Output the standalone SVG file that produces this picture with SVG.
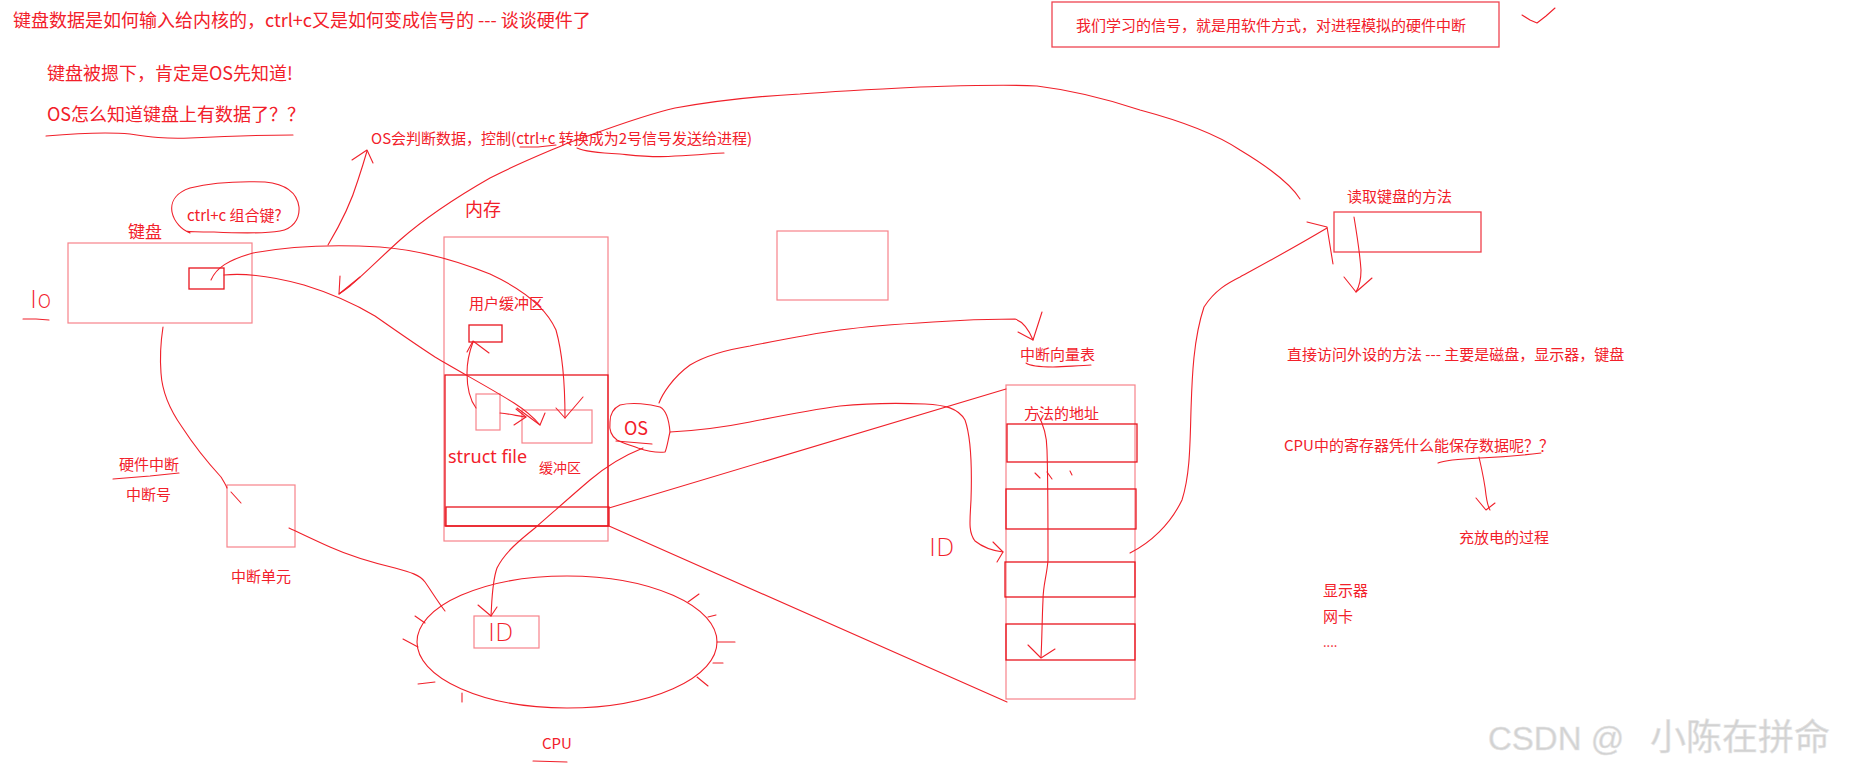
<svg xmlns="http://www.w3.org/2000/svg" width="1866" height="768" viewBox="0 0 1866 768">
<style>
.t{font-family:"Noto Sans CJK SC","Noto Sans",sans-serif;fill:#f2202a;dominant-baseline:central}
.s15{font-size:15px}
.s18{font-size:18px}
.hw{font-family:"DejaVu Sans","Liberation Sans",sans-serif;font-size:24px;fill:#f2202a;font-weight:200;dominant-baseline:central}
.lb{fill:none;stroke:#f7838a;stroke-width:1.2}
.db{fill:none;stroke:#e8141e;stroke-width:1.3}
.ln{fill:none;stroke:#f0202a;stroke-width:1.1;stroke-linejoin:round;stroke-linecap:round}
.wm{font-family:"Liberation Sans","Noto Sans CJK SC",sans-serif;fill:#d2d2d2;stroke:#e6e6e6;stroke-width:0.6}
</style>
<rect width="1866" height="768" fill="#fff"/>

<g id="title"><text class="t s18" x="13" y="19">键盘数据是如何输入给内核的，ctrl+c又是如何变成信号的 --- 谈谈硬件了</text></g>
<g id="note1"><text class="t s18" x="47" y="72">键盘被摁下，肯定是OS先知道!</text></g>
<g id="note2"><text class="t s18" x="47" y="113">OS怎么知道键盘上有数据了？？</text></g>
<g id="note3"><text class="t s15" x="371" y="137">OS会判断数据，控制(ctrl+c 转换成为2号信号发送给进程)</text></g>

<g id="signal-box">
<rect class="db" x="1052" y="2" width="447" height="45" style="stroke:#ee4450"/>
<text class="t s15" x="1076" y="24">我们学习的信号，就是用软件方式，对进程模拟的硬件中断</text>
</g>
<g id="check"><path class="ln" d="M1522,15 L1530,20 L1537,23 L1546,16 L1555,8"/></g>

<g id="ctrlc">
<path class="ln" d="M190,233 C182,230 174,222 172,212 C170,200 178,192 190,188 C210,183 240,181 265,182 C285,184 297,192 299,207 C300,220 292,229 280,231 C262,234 235,233 214,232 C200,232 190,232 186,231"/>
<text class="t s15" x="187" y="214">ctrl+c 组合键?</text>
</g>

<g id="keyboard">
<text class="t" style="font-size:17px" x="128" y="230">键盘</text>
<rect class="lb" x="68" y="243" width="184" height="80"/>
<rect class="db" x="189" y="268" width="35" height="21"/>
</g>
<g id="io-mark">
<text class="hw" x="30" y="300">Io</text>
<path class="ln" d="M23,319 L36,319 L49,320"/>
</g>

<g id="memory">
<text class="t s18" x="465" y="208">内存</text>
<rect class="lb" x="444" y="237" width="164" height="304"/>
<text class="t s15" x="469" y="302">用户缓冲区</text>
<rect class="db" x="469" y="325" width="33" height="17"/>
<rect class="db" x="445" y="375" width="163" height="151"/>
<rect class="lb" x="476" y="394" width="24" height="36"/>
<rect class="lb" x="522" y="410" width="70" height="33"/>
<text class="t s18" style="font-family:'Noto Sans',sans-serif" x="448" y="456">struct file</text>
<text class="t" style="font-size:14px" x="539" y="467">缓冲区</text>
<rect class="db" x="446" y="507" width="163" height="19"/>
</g>

<g id="hw-int">
<text class="t s15" x="119" y="463">硬件中断</text>
<path class="ln" d="M113,479 L150,476 L179,473"/>
<text class="t s15" x="126" y="493">中断号</text>
</g>

<g id="int-unit">
<rect class="lb" x="227" y="485" width="68" height="62"/>
<text class="t s15" x="231" y="575">中断单元</text>
</g>

<g id="empty-box"><rect class="lb" x="777" y="231" width="111" height="69"/></g>

<g id="os">
<path class="ln" d="M620,405 C632,402 650,404 660,407 C666,410 669,420 670,432 C668,440 667,448 665,452 C658,453 650,452 638,448 C630,445 622,443 617,440 C611,436 609,430 610,422 C610,414 614,408 620,405 Z"/>
<text class="t s18" x="624" y="427">OS</text>
<path class="ln" d="M616,441 L652,444"/>
</g>

<g id="vector-table">
<text class="t s15" x="1020" y="353">中断向量表</text>
<path class="ln" d="M1026,363 C1030,366 1040,367 1053,367 C1070,366 1082,366 1091,365"/>
<rect class="lb" x="1006" y="385" width="129" height="314"/>
<text class="t s15" x="1024" y="412">方法的地址</text>
<rect class="db" x="1007" y="424" width="130" height="38"/>
<rect class="db" x="1006" y="489" width="130" height="40"/>
<rect class="db" x="1005" y="562" width="130" height="35"/>
<rect class="db" x="1006" y="624" width="129" height="36"/>
<path class="ln" d="M1035,473 L1040,478 M1047,472 L1052,479 M1070,471 L1072,475"/>
</g>
<g id="id-mark"><text class="hw" x="929" y="548">ID</text></g>

<g id="read-kbd">
<text class="t s15" x="1347" y="195">读取键盘的方法</text>
<rect class="db" x="1334" y="212" width="147" height="40" style="stroke:#f0404a"/>
</g>

<g id="direct"><text class="t s15" x="1287" y="353">直接访问外设的方法 --- 主要是磁盘，显示器，键盘</text></g>
<g id="cpu-q">
<text class="t s15" x="1284" y="444">CPU中的寄存器凭什么能保存数据呢？？</text>
<path class="ln" d="M1438,463 C1445,460 1460,459 1480,458 C1505,457 1525,455 1541,453"/>
</g>
<g id="charge"><text class="t s15" x="1459" y="536">充放电的过程</text></g>
<g id="devices">
<text class="t s15" x="1323" y="589">显示器</text>
<text class="t s15" x="1323" y="615">网卡</text>
<text class="t" style="font-size:13px;dominant-baseline:auto" x="1323" y="647">....</text>
</g>

<g id="cpu">
<ellipse class="ln" cx="567" cy="642" rx="150" ry="66"/>
<rect class="lb" x="474" y="616" width="65" height="32"/>
<text class="hw" x="488" y="633">ID</text>
<path class="ln" d="M415,616 L425,623 M403,639 L418,647 M418,684 L435,682 M462,693 L462,702 M688,602 L699,594 M708,617 L716,615 M717,642 L735,642 M713,663 L723,663 M697,677 L708,686"/>
<text class="t s15" x="542" y="742">CPU</text>
<path class="ln" d="M533,761 L567,762"/>
</g>

<g id="connectors">
<!-- underlines -->
<path class="ln" d="M46,136 C80,133 110,132 130,134 C150,137 165,139 190,138 C230,136 260,135 293,135"/>
<path class="ln" d="M520,147 L538,147 L556,145"/>
<path class="ln" d="M577,148 C585,152 600,153 620,154 C640,156 655,158 675,156 C700,155 715,153 724,153"/>
<!-- keyboard small box to buffer, upper arc -->
<path class="ln" d="M211,280 C216,268 228,260 253,253 C290,246 330,244 380,247 C420,250 460,262 490,274 C520,288 545,305 556,330 C563,355 565,385 565,418"/>
<path class="ln" d="M556,408 L565,418 L583,397"/>
<!-- keyboard small box to buffer, lower arc -->
<path class="ln" d="M224,275 C245,273 275,277 304,285 C330,293 355,304 375,316 C395,330 415,344 435,357 C460,372 490,388 514,403 C525,410 534,418 540,425"/>
<path class="ln" d="M517,408 L540,425 L545,413"/>
<!-- tall box to buffer -->
<path class="ln" d="M500,413 C510,414 518,416 526,417"/>
<path class="ln" d="M516,409 L526,417 L514,425"/>
<!-- tall box to user buffer -->
<path class="ln" d="M476,408 C470,400 467,388 467,373 C467,360 470,350 473,342"/>
<path class="ln" d="M467,352 L473,341 L489,353"/>
<!-- keyboard up to OS note -->
<path class="ln" d="M328,245 C340,225 352,200 358,180 C362,168 365,158 367,151"/>
<path class="ln" d="M352,160 L367,150 L373,163"/>
<!-- big arc from read keyboard method to memory -->
<path class="ln" d="M1300,199 C1290,183 1270,168 1240,150 C1210,130 1170,118 1140,110 C1110,100 1070,90 1037,86 C1000,84 960,86 920,87 C880,89 840,91 800,94 C760,96 720,100 675,108 C640,116 605,130 568,143 C540,155 515,165 490,178 C455,198 425,218 400,240 C378,260 362,276 350,286 C345,290 342,292 339,294"/>
<path class="ln" d="M340,276 L339,294 L360,277"/>
<!-- keyboard box to interrupt unit -->
<path class="ln" d="M163,327 C161,340 160,360 161,373 C162,390 170,410 182,427 C195,447 210,465 221,477 C224,482 226,485 227,488"/>
<path class="ln" d="M231,492 L241,503"/>
<!-- interrupt unit to CPU -->
<path class="ln" d="M289,528 C300,533 310,538 330,547 C350,556 370,562 395,568 C410,572 420,575 425,582 C432,592 438,602 445,611"/>
<!-- OS to ID in CPU -->
<path class="ln" d="M643,448 C628,454 610,463 590,480 C570,497 550,515 535,528 C520,540 505,552 497,568 C492,582 492,600 491,616"/>
<path class="ln" d="M478,605 L491,616 L497,607"/>
<!-- OS to interrupt vector table -->
<path class="ln" d="M659,403 C662,395 672,378 690,365 C705,356 725,350 750,346 C780,340 810,334 840,330 C870,326 900,324 933,322 C960,320 990,319 1015,319 C1024,322 1029,330 1033,340"/>
<path class="ln" d="M1018,332 L1033,340 L1042,312"/>
<!-- OS to table row -->
<path class="ln" d="M670,432 C690,431 720,428 750,422 C780,416 810,410 840,406 C870,403 900,403 925,404 C945,405 958,408 965,420 C972,440 972,470 971,500 C970,520 968,532 975,541 C985,549 995,551 1003,552"/>
<path class="ln" d="M993,542 L1003,552 L997,562"/>
<!-- bar to table lines -->
<path class="ln" d="M609,508 L1006,389"/>
<path class="ln" d="M609,526 L1007,702"/>
<!-- vertical arrow in table -->
<path class="ln" d="M1037,413 C1044,425 1047,435 1047,450 C1048,480 1048,520 1048,560 C1047,575 1043,585 1043,600 C1042,620 1042,640 1041,657"/>
<path class="ln" d="M1028,645 L1041,658 L1055,649"/>
<!-- table to read keyboard method -->
<path class="ln" d="M1130,553 C1150,543 1170,525 1182,500 C1190,475 1190,445 1191,410 C1192,380 1193,340 1204,307 C1215,290 1228,283 1240,277 C1260,266 1290,250 1327,228"/>
<path class="ln" d="M1307,222 L1327,227 L1333,264"/>
<!-- read keyboard box down -->
<path class="ln" d="M1354,217 C1357,235 1360,255 1361,270 C1361,280 1359,287 1356,292"/>
<path class="ln" d="M1344,277 L1356,292 L1372,278"/>
<!-- CPU question down -->
<path class="ln" d="M1479,457 C1482,470 1485,485 1486,495 C1487,502 1488,507 1490,510"/>
<path class="ln" d="M1476,498 L1486,510 L1495,503"/>
</g>

<g id="watermark">
<text class="wm" x="1488" y="750" style="font-size:33px">CSDN @</text>
<text class="wm" x="1650" y="750" style="font-size:36px">小陈在拼命</text>
</g>
</svg>
